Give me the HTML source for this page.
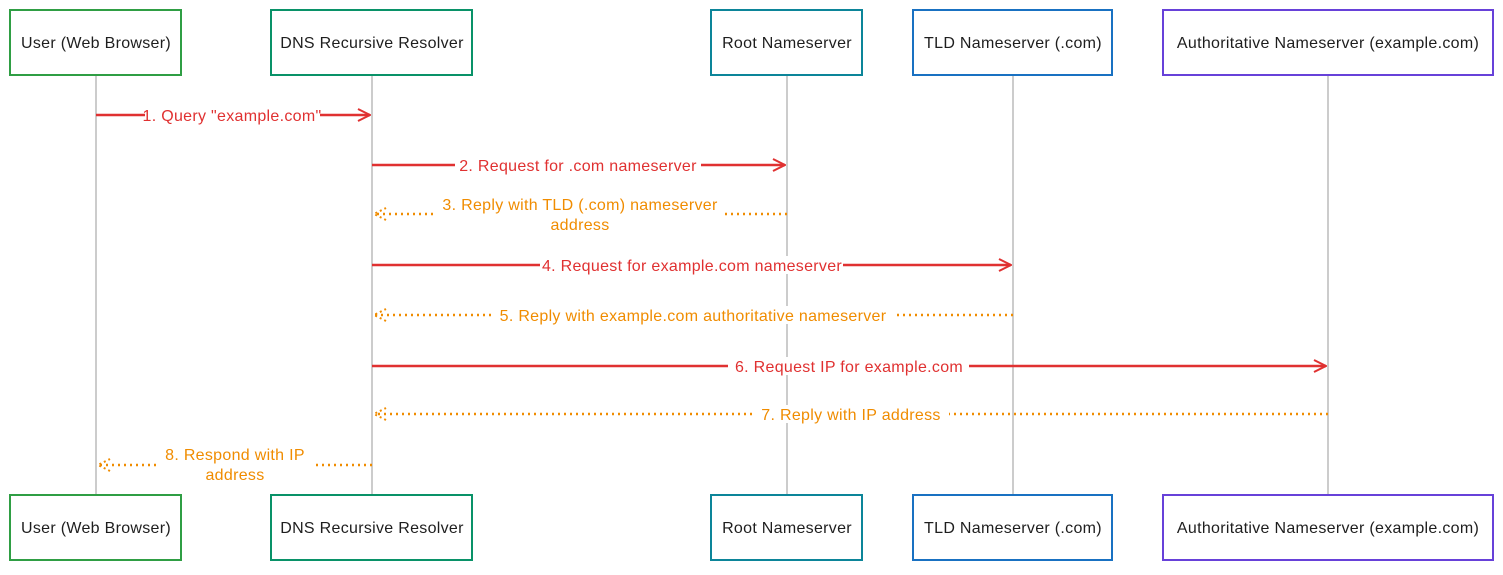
<!DOCTYPE html>
<html><head><meta charset="utf-8"><style>
html,body{margin:0;padding:0;background:#fff;}
svg text{font-family:"Liberation Sans",sans-serif;font-size:16px;letter-spacing:0.3px;}
</style></head><body>
<svg width="1503" height="570" viewBox="0 0 1503 570" xmlns="http://www.w3.org/2000/svg">
<defs>
<marker id="ar" markerWidth="14" markerHeight="14" refX="13" refY="7" orient="auto" markerUnits="userSpaceOnUse"><path d="M1,1 L13,7 L1,13" fill="none" stroke="#e03131" stroke-width="2"/></marker>
<marker id="ao" markerWidth="14" markerHeight="14" refX="13" refY="7" orient="auto" markerUnits="userSpaceOnUse"><path d="M1,1 L13,7 L1,13" fill="none" stroke="#f08c00" stroke-width="2" stroke-dasharray="2 3"/></marker>
</defs>
<g stroke="#999" stroke-width="1">
<line x1="96" y1="75" x2="96" y2="495"/>
<line x1="372" y1="75" x2="372" y2="495"/>
<line x1="787" y1="75" x2="787" y2="495"/>
<line x1="1013" y1="75" x2="1013" y2="495"/>
<line x1="1328" y1="75" x2="1328" y2="495"/>
</g>
<g fill="#fff" stroke-width="2">
<rect x="10" y="10" width="171" height="65" stroke="#2f9e44"/>
<rect x="271" y="10" width="201" height="65" stroke="#099268"/>
<rect x="711" y="10" width="151" height="65" stroke="#0c8599"/>
<rect x="913" y="10" width="199" height="65" stroke="#1971c2"/>
<rect x="1163" y="10" width="330" height="65" stroke="#6741d9"/>
<rect x="10" y="495" width="171" height="65" stroke="#2f9e44"/>
<rect x="271" y="495" width="201" height="65" stroke="#099268"/>
<rect x="711" y="495" width="151" height="65" stroke="#0c8599"/>
<rect x="913" y="495" width="199" height="65" stroke="#1971c2"/>
<rect x="1163" y="495" width="330" height="65" stroke="#6741d9"/>
</g>
<g fill="#1e1e1e" text-anchor="middle">
<text x="96" y="48">User (Web Browser)</text>
<text x="372" y="48">DNS Recursive Resolver</text>
<text x="787" y="48">Root Nameserver</text>
<text x="1013" y="48">TLD Nameserver (.com)</text>
<text x="1328" y="48">Authoritative Nameserver (example.com)</text>
<text x="96" y="533">User (Web Browser)</text>
<text x="372" y="533">DNS Recursive Resolver</text>
<text x="787" y="533">Root Nameserver</text>
<text x="1013" y="533">TLD Nameserver (.com)</text>
<text x="1328" y="533">Authoritative Nameserver (example.com)</text>
</g>
<g stroke="#e03131" stroke-width="2.5" fill="none">
<line x1="96" y1="115" x2="370" y2="115" marker-end="url(#ar)"/>
<line x1="372" y1="165" x2="785" y2="165" marker-end="url(#ar)"/>
<line x1="372" y1="265" x2="1011" y2="265" marker-end="url(#ar)"/>
<line x1="372" y1="366" x2="1326" y2="366" marker-end="url(#ar)"/>
</g>
<g stroke="#f08c00" stroke-width="2.5" fill="none" stroke-dasharray="2 4">
<line x1="787" y1="214" x2="374" y2="214" marker-end="url(#ao)"/>
<line x1="1013" y1="315" x2="374" y2="315" marker-end="url(#ao)"/>
<line x1="1328" y1="414" x2="374" y2="414" marker-end="url(#ao)"/>
<line x1="372" y1="465" x2="98" y2="465" marker-end="url(#ao)"/>
</g>
<g text-anchor="middle">
<rect x="145" y="106" width="175" height="18" fill="#fff"/>
<text x="232" y="121" fill="#e03131">1. Query "example.com"</text>
<rect x="455" y="156" width="246" height="18" fill="#fff"/>
<text x="578" y="171" fill="#e03131">2. Request for .com nameserver</text>
<rect x="436" y="195" width="288" height="38" fill="#fff"/>
<text x="580" y="210" fill="#f08c00">3. Reply with TLD (.com) nameserver</text>
<text x="580" y="230" fill="#f08c00">address</text>
<rect x="540" y="256" width="303" height="18" fill="#fff"/>
<text x="692" y="271" fill="#e03131">4. Request for example.com nameserver</text>
<rect x="492" y="306" width="402" height="18" fill="#fff"/>
<text x="693" y="321" fill="#f08c00">5. Reply with example.com authoritative nameserver</text>
<rect x="728" y="357" width="241" height="18" fill="#fff"/>
<text x="849" y="372" fill="#e03131">6. Request IP for example.com</text>
<rect x="753" y="405" width="196" height="18" fill="#fff"/>
<text x="851" y="420" fill="#f08c00">7. Reply with IP address</text>
<rect x="157" y="445" width="157" height="38" fill="#fff"/>
<text x="235" y="460" fill="#f08c00">8. Respond with IP</text>
<text x="235" y="480" fill="#f08c00">address</text>
</g>
</svg>
</body></html>
